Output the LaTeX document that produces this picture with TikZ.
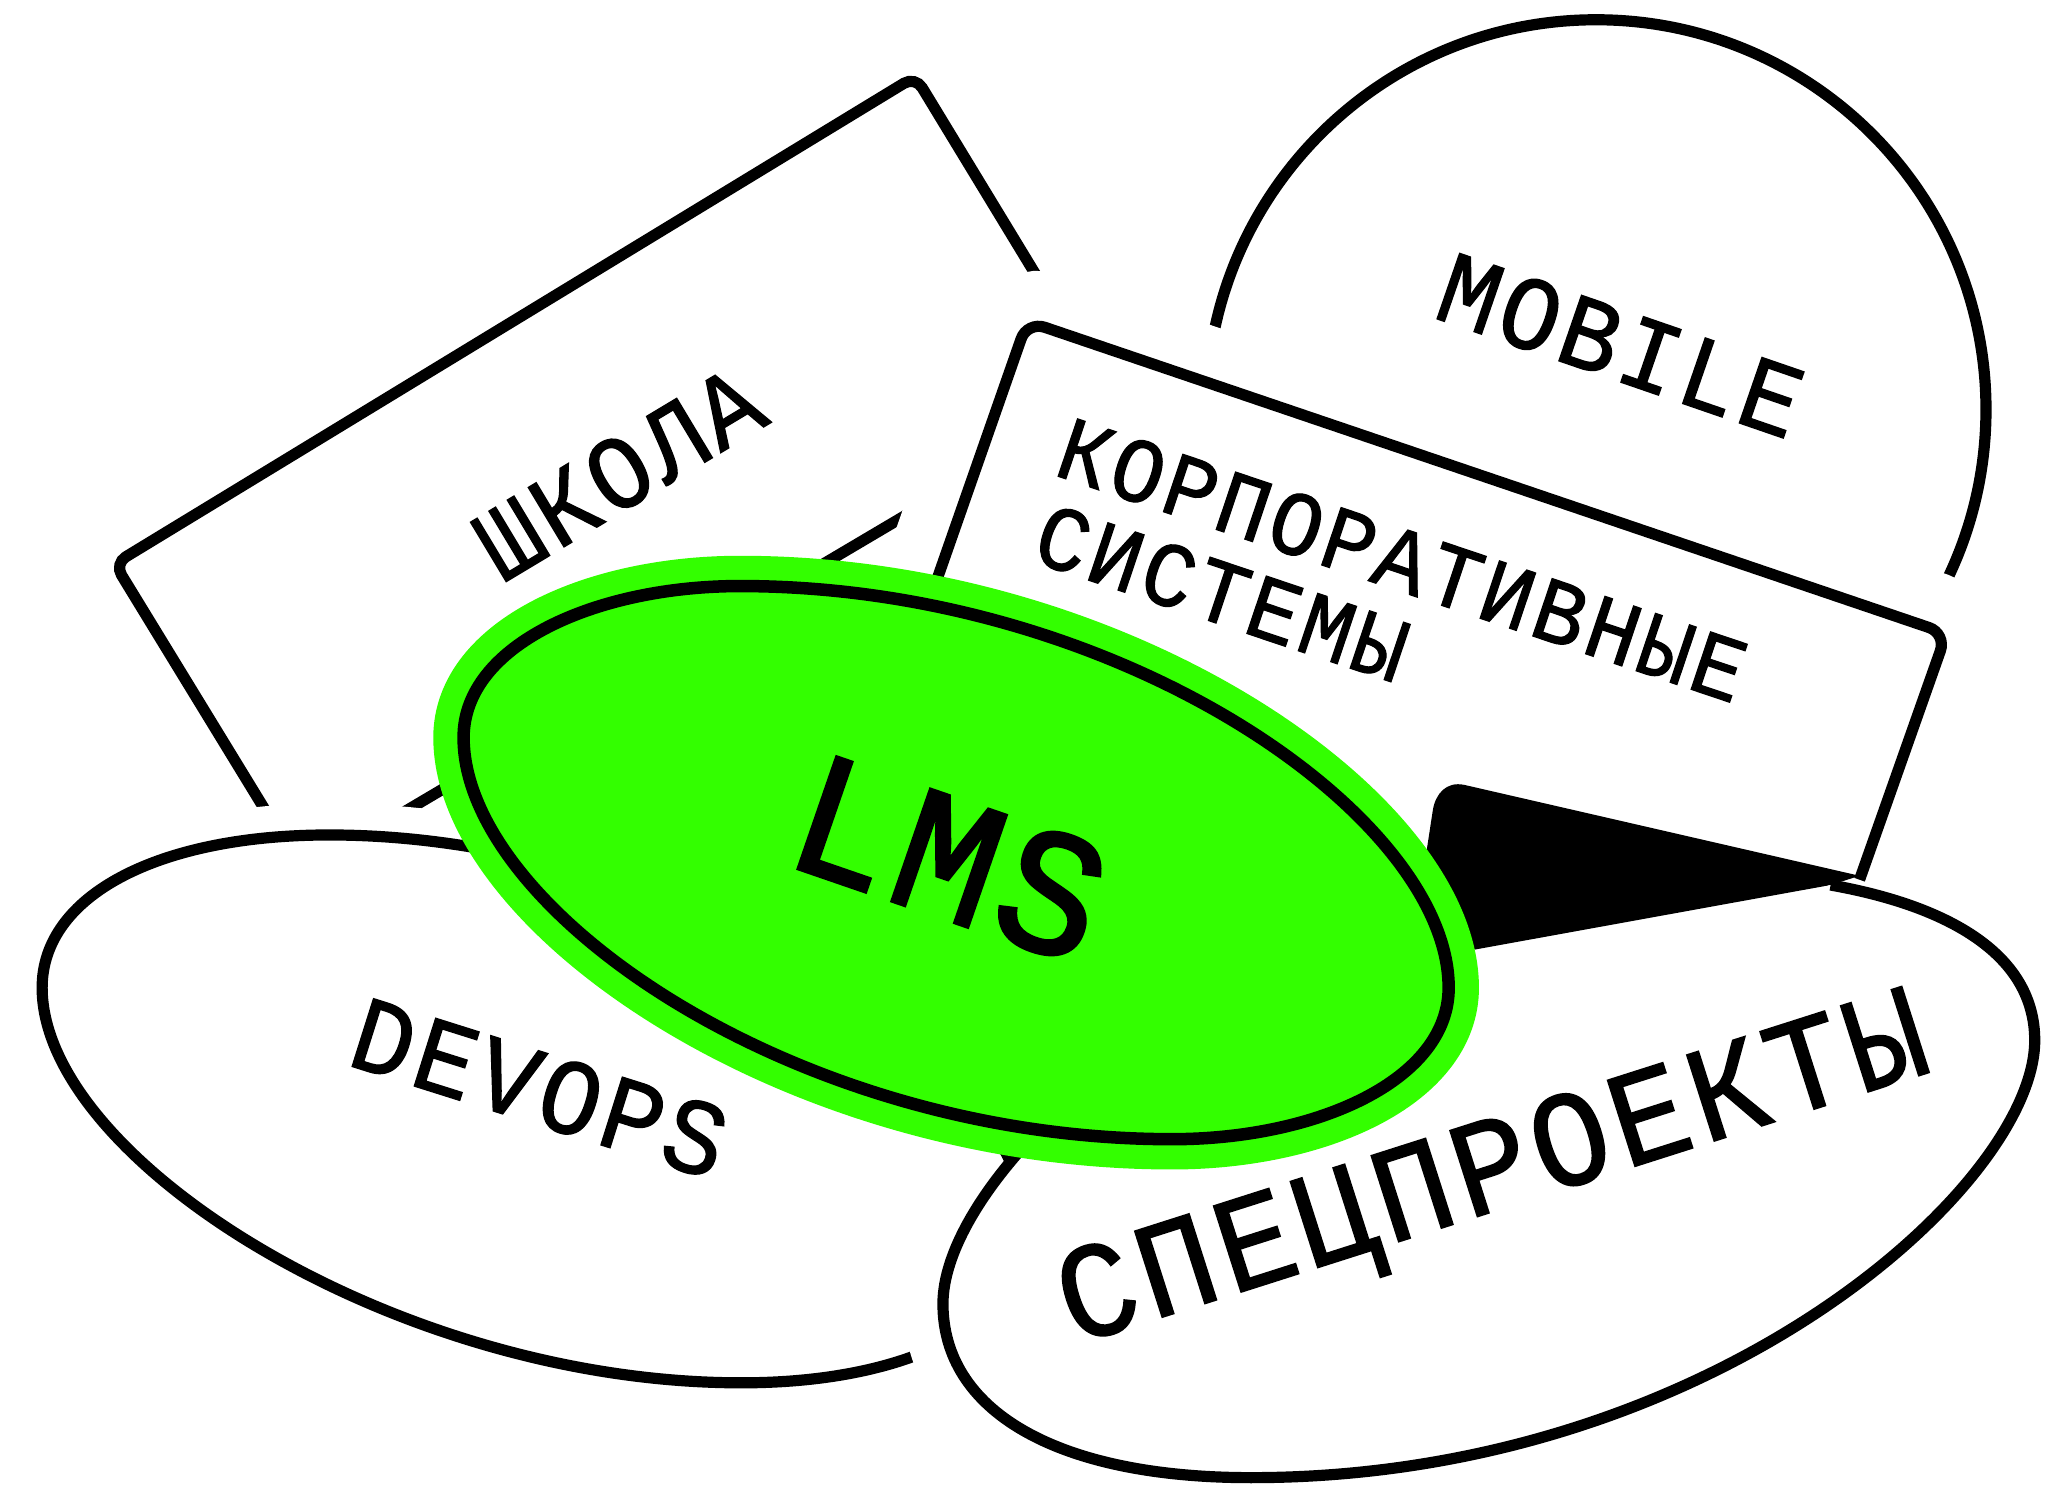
\documentclass[tikz,border=0pt]{standalone}
\usepackage{fontspec}
\newfontfamily\labfont[FakeBold=1.2,FakeStretch=0.94,LetterSpace=4]{Liberation Mono}
\newfontfamily\lmsfont[FakeBold=2,FakeStretch=0.94,LetterSpace=4]{Liberation Mono}
\definecolor{lime}{HTML}{33FF00}
\tikzset{
  x=1pt,y=-1pt,
  outline/.style={draw=black,line width=8.5pt},
  halo/.style={draw=white,line width=84pt},
  lab/.style={inner sep=0pt,text depth=0pt,font=\labfont\fontsize{#1}{#1}\selectfont,anchor=center},
}
\newcommand{\devopspath}{(250,634) .. controls (512,634) and (780,804) .. (780,934) .. controls (780,1004) and (692,1050) .. (563,1050) .. controls (300,1050) and (32,880) .. (32,750) .. controls (32,680) and (120,634) .. (250,634) -- cycle}
\newcommand{\specpath}{(1390,672) .. controls (1480,688) and (1545,725) .. (1545,790) .. controls (1545,900) and (1300,1122) .. (950,1122) .. controls (800,1122) and (716,1070) .. (716,990) .. controls (716,951.5) and (746,899.2) .. (800,847)}
\newcommand{\lmspath}{(562,445) .. controls (850,445) and (1100,620) .. (1100,750) .. controls (1100,820) and (1000,865) .. (890,865) .. controls (602,865) and (352,690) .. (352,560) .. controls (352,490) and (452,445) .. (562,445) -- cycle}
\begin{document}
\begin{tikzpicture}
\useasboundingbox (0,0) rectangle (1568,1127);
% school
\draw[outline,rounded corners=10pt] (695,58) -- (842,300) -- (230,662) -- (87,428) -- cycle;
% mobile
\draw[outline] (1212,311) circle[radius=296];
% corporate
\draw[halo,rounded corners=14pt] (680,530) -- (780,244) -- (1477,480) -- (1412,668);
\fill[white] (780,244) -- (1477,480) -- (1412,668) -- (1120,721) -- (680,530) -- cycle;
\draw[outline,rounded corners=14pt] (680,530) -- (780,244) -- (1478,481) -- (1412,668);
% wedge
\fill[black] (1412,665) -- (1112,596) .. controls (1098,593) and (1090,603) .. (1088,615) -- (1075,700) -- (1120,721) -- (1390,672) -- cycle;
% devops
\draw[draw=white,line width=48pt] \devopspath;
\fill[white] \devopspath;
\draw[outline] \devopspath;
% spec
\begin{scope}
\clip (600,900) rectangle (760,1127);
\draw[draw=white,line width=60pt] \specpath;
\end{scope}
\fill[white] \specpath;
\draw[outline] \specpath;
% lms
\draw[draw=lime,fill=lime,line width=46pt] \lmspath;
\draw[outline,fill=lime,line width=9.5pt] \lmspath;
% labels
\node[lab=80,rotate=31] (school) at (470,359) {ШКОЛА};
\node[lab=80,rotate=-19] (mobile) at (1231,262) {MOBILE};
\node[lab=70,rotate=-18.6] (corp1) at (1065,425) {КОРПОРАТИВНЫЕ};
\node[lab=70,rotate=-18.6] (corp2) at (928,450) {СИСТЕМЫ};
\node[lab=82,rotate=-17.5] (devops) at (410,826) {DEVOPS};
\node[lab=104,rotate=17.7] (spec) at (1132,884) {СПЕЦПРОЕКТЫ};
\node[inner sep=0pt,text depth=0pt,font=\lmsfont\fontsize{136}{136}\selectfont,rotate=-19] (lms) at (721,651) {LMS};
\end{tikzpicture}
\end{document}
